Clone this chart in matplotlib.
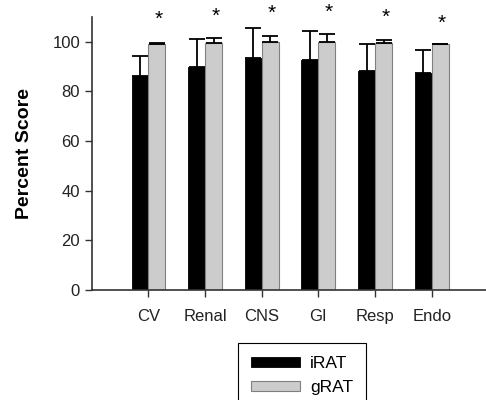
import matplotlib.pyplot as plt
import numpy as np

plt.rcParams['font.family'] = ['Liberation Sans', 'DejaVu Sans']

categories = ['CV', 'Renal', 'CNS', 'GI', 'Resp', 'Endo']
irat = [86.3, 89.7, 93.3, 92.5, 88.4, 87.4]
irat_err = [8.1, 11.6, 12.3, 11.8, 10.7, 9.3]
grat = [99.3, 99.4, 100.0, 100.0, 99.4, 99.3]
grat_err = [0.3, 2.3, 2.4, 3.0, 1.3, 0.0]
star_y = [109.2, 110.4, 111.4, 111.9, 109.8, 107.5]

x = np.arange(1, len(categories) + 1)
w = 0.3

fig = plt.figure(figsize=(4.86, 4.0), dpi=100)
ax = fig.add_axes([0.189, 0.275, 0.81, 0.6825])

ax.bar(x - w / 2, irat, w, color='black', edgecolor='black', linewidth=0.6, label='iRAT',
       yerr=[np.zeros(6), irat_err], error_kw=dict(ecolor='black', elinewidth=1.3, capsize=6, capthick=1.3))
ax.bar(x + w / 2, grat, w, color='#cccccc', edgecolor='#808080', linewidth=0.8, label='gRAT',
       yerr=[np.zeros(6), grat_err], error_kw=dict(ecolor='black', elinewidth=1.3, capsize=6, capthick=1.3))

for xi, yi in zip(x, star_y):
    ax.text(xi + w / 2 + 0.03, yi, '*', ha='center', va='center', fontsize=15, clip_on=False)

ax.set_xlim(0, 6.95)
ax.set_ylim(0, 110)
ax.set_yticks([0, 20, 40, 60, 80, 100])
ax.set_xticks(x)
ax.set_xticklabels(categories)
ax.tick_params(labelsize=12, length=5, width=1, color='#333333', colors='#222222')
ax.tick_params(axis='x', pad=9)
for s in ['top', 'right']:
    ax.spines[s].set_visible(False)
for s in ['left', 'bottom']:
    ax.spines[s].set_color('#333333')
    ax.spines[s].set_linewidth(1.2)

ax.set_ylabel('Percent Score', fontsize=14, fontweight='bold', labelpad=14)

leg = fig.legend(loc='upper left', bbox_to_anchor=(0.49, 0.143), borderaxespad=0,
                 fontsize=12.5, handlelength=2.8, handleheight=0.5, handletextpad=0.6,
                 fancybox=False, edgecolor='black', framealpha=1, borderpad=0.75,
                 labelspacing=0.55)
leg.get_frame().set_linewidth(0.8)

plt.savefig('out.png', dpi=100)
